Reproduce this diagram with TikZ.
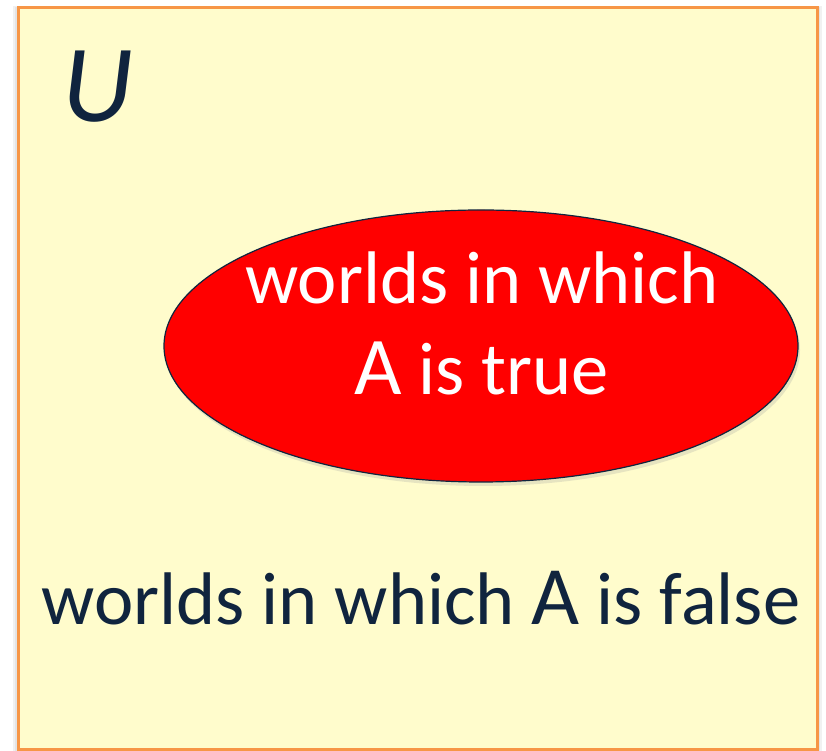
\documentclass[tikz,border=0pt]{standalone}
\usepackage{fontspec}
\setmainfont{Carlito}
\usetikzlibrary{shapes.geometric, shadows}
\definecolor{univfill}{HTML}{FFFCCC}
\definecolor{univedge}{HTML}{F79646}
\definecolor{textnavy}{HTML}{10243E}
\definecolor{eventred}{HTML}{FF0000}
\definecolor{shadowgray}{HTML}{9E9E9E}

\begin{document}
\begin{tikzpicture}[
    x=1pt, y=1pt,
    setlabel/.style={font=\fontsize{74.5}{88}\selectfont, inner sep=0pt, anchor=base},
    event/.style={ellipse, draw=textnavy, line width=1.2pt, fill=eventred,
                  minimum width=634pt, minimum height=272pt, inner sep=0pt,
                  drop shadow={shadow xshift=2pt, shadow yshift=-4pt, opacity=0.25, fill=shadowgray}}
]

\useasboundingbox (0,0) rectangle (826,751);

% Universe
\fill[shadowgray, opacity=0.15] (13,-3) rectangle (822,745);
\fill[shadowgray, opacity=0.15] (15,-1) rectangle (820,744);
\draw[line width=3pt, univedge, fill=univfill] (18,1) rectangle (817,743);
\node[font=\fontsize{110}{130}\selectfont\itshape, text=textnavy, inner sep=0pt, anchor=base] (uLabel) at (98,629) {U};

% Event A
\node[event] (trueSet) at (481,405) {};
\node[setlabel, text=white] (trueLine1) at (482,447) {worlds in which};
\node[setlabel, text=white] (trueLine2) at (481.5,356) {{\fontsize{82}{88}\selectfont A} is true};

% Complement
\node[setlabel, text=textnavy] (falseLine) at (421,126) {worlds in which {\fontsize{83}{88}\selectfont A} is false};

\end{tikzpicture}
\end{document}
